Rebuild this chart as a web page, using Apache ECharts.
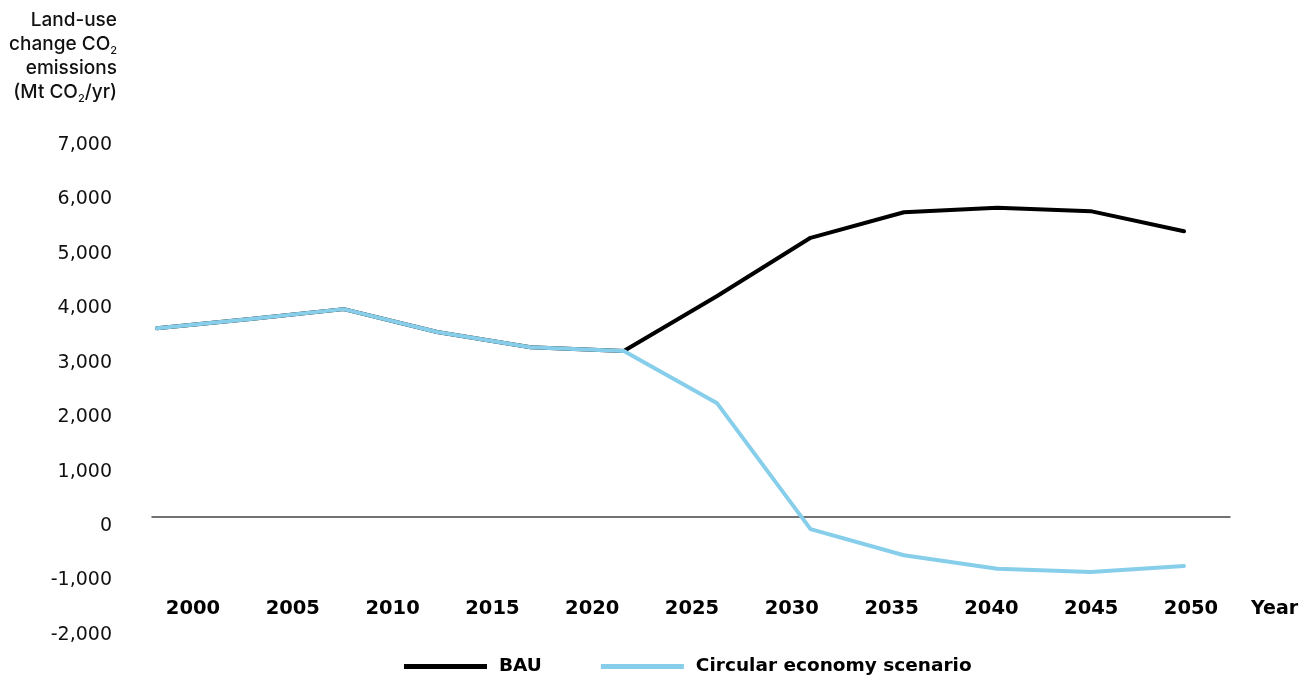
<!DOCTYPE html>
<html>
<head>
<meta charset="utf-8">
<script src="https://cdn.jsdelivr.net/npm/echarts@6/dist/echarts.min.js"></script>
<style>
  html, body { margin: 0; padding: 0; background: #fff; }
  #chart { width: 1316px; height: 680px; }
</style>
</head>
<body>
<div id="chart"></div>
<script>
// ---- data ----
const pointSteps = ['1', '2', '3', '4', '5', '6', '7', '8', '9', '10', '11', '12'];
const bauValues = [3470, 3640, 3820, 3400, 3120, 3050, 4060, 5130, 5600, 5680, 5620, 5250];
const circularValues = [3470, 3640, 3820, 3400, 3120, 3050, 2090, -220, -700, -950, -1010, -900];
const yearLabels = ['2000', '2005', '2010', '2015', '2020', '2025', '2030', '2035', '2040', '2045', '2050'];
const seriesNames = ['BAU', 'Circular economy scenario'];
const yMin = -2000, yMax = 7000, yStep = 1000;

const chart = echarts.init(document.getElementById('chart'));
const hiddenY = (gi) => ({
  type: 'value', gridIndex: gi, min: yMin, max: yMax, interval: yStep,
  axisLine: { show: false }, axisTick: { show: false }, axisLabel: { show: false }, splitLine: { show: false }
});

chart.setOption({
  animation: false,
  backgroundColor: '#fff',
  grid: [
    { left: 157, right: 132, top: 136, bottom: 54 },   // data
    { left: 152, right: 86, top: 136, bottom: 54 },    // zero line
    { left: 193, right: 125, top: 136, bottom: 71 }    // year labels
  ],
  xAxis: [
    { type: 'category', gridIndex: 0, data: pointSteps, boundaryGap: false,
      axisLine: { show: false }, axisTick: { show: false }, axisLabel: { show: false }, splitLine: { show: false } },
    { type: 'category', gridIndex: 1, data: pointSteps, boundaryGap: false,
      axisLine: { show: true, onZero: true, lineStyle: { color: '#444', width: 1.5 } },
      axisTick: { show: false }, axisLabel: { show: false }, splitLine: { show: false } },
    { type: 'category', gridIndex: 2, data: yearLabels, boundaryGap: false, position: 'bottom',
      name: 'Year', nameLocation: 'end', nameGap: 60,
      nameTextStyle: { fontFamily: 'DejaVu Sans', fontWeight: 'bold', fontSize: 19, color: '#000', verticalAlign: 'middle' },
      axisLine: { show: false, onZero: false }, axisTick: { show: false }, splitLine: { show: false },
      axisLabel: { margin: 0, verticalAlign: 'middle', fontFamily: 'DejaVu Sans', fontWeight: 'bold', fontSize: 19.5, color: '#000' } }
  ],
  yAxis: [
    { type: 'value', gridIndex: 0, min: yMin, max: yMax, interval: yStep,
      axisLine: { show: false }, axisTick: { show: false }, splitLine: { show: false },
      axisLabel: {
        margin: 45, verticalAlign: 'top', lineHeight: 18,
        fontFamily: 'DejaVu Sans', fontSize: 19, color: '#111',
        formatter: (v) => v.toLocaleString('en-US')
      } },
    hiddenY(1),
    hiddenY(2)
  ],
  legend: {
    left: 399, top: 652,
    itemWidth: 83, itemHeight: 5, itemGap: 59, icon: 'rect',
    data: seriesNames,
    textStyle: { fontFamily: 'DejaVu Sans', fontWeight: 'bold', fontSize: 18.5, color: '#000', padding: [0, 0, 0, 7] }
  },
  graphic: [{
    type: 'text', x: 117, y: 8,
    style: {
      text: 'Land-use\nchange CO{s|2}\nemissions\n(Mt CO{s|2}/yr)',
      align: 'right', verticalAlign: 'top',
      fontFamily: 'Inter', fontSize: 19, fontWeight: 500, lineHeight: 24, fill: '#111',
      rich: { s: { fontFamily: 'Inter', fontSize: 11, fontWeight: 500, lineHeight: 14, verticalAlign: 'bottom', fill: '#111' } }
    }
  }],
  series: [
    { name: seriesNames[0], type: 'line', xAxisIndex: 0, yAxisIndex: 0, data: bauValues,
      showSymbol: false, symbol: 'none', color: '#000',
      lineStyle: { color: '#000', width: 4, cap: 'round', join: 'round' } },
    { name: seriesNames[1], type: 'line', xAxisIndex: 0, yAxisIndex: 0, data: circularValues,
      showSymbol: false, symbol: 'none', color: '#87ceeb',
      lineStyle: { color: '#87ceeb', width: 4, cap: 'round', join: 'round' } }
  ]
});
</script>
</body>
</html>
